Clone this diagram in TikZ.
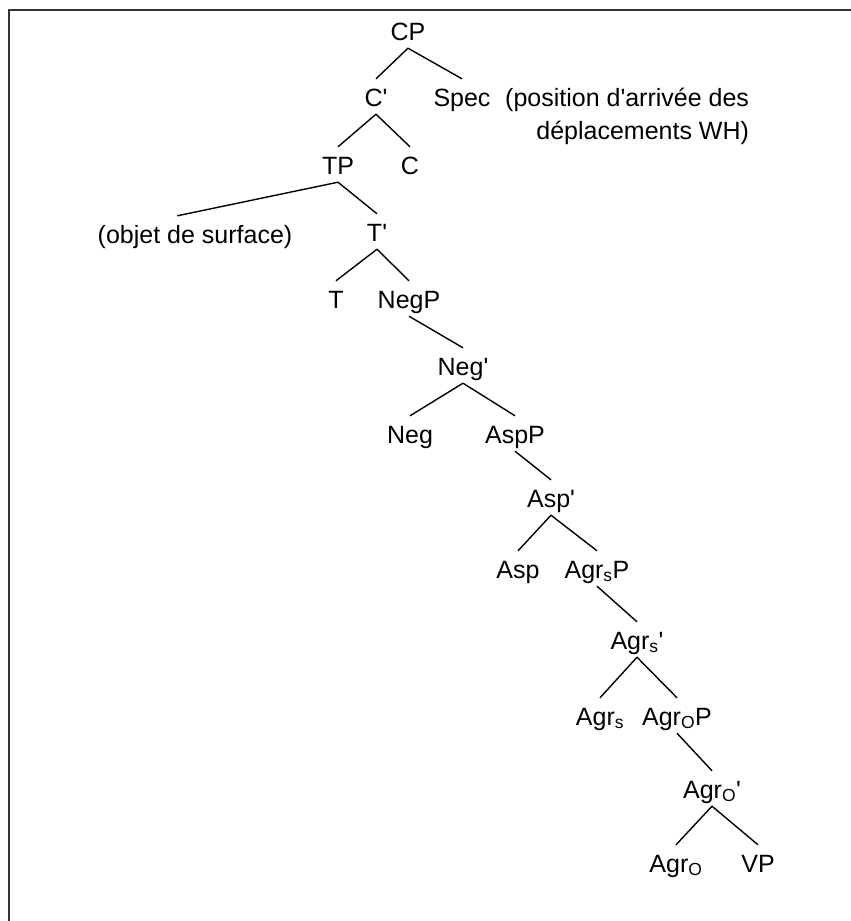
\documentclass[tikz,border=0pt]{standalone}
\usepackage{fontspec}
\setmainfont{Liberation Sans}
\usetikzlibrary{positioning}
\newcommand{\prm}{\textquotesingle}
\tikzset{
  % category label of the tree
  cat/.style    = {inner sep=0pt, anchor=base, text height=27pt, text depth=8pt,
                   font=\fontsize{25}{33}\selectfont},
  % free comment beside a node
  note/.style   = {inner sep=0pt, align=right, anchor=base west,
                   font=\fontsize{25}{33}\selectfont},
  % tree branches
  branch/.style = {line width=1.4pt, black},
  % box edge
  edge/.style   = {line width=2pt, black!80},
}

\begin{document}
\begin{tikzpicture}[x=1pt, y=-1pt]
  \useasboundingbox (0,0) rectangle (851,921);

  % frame (top and left side only)
  \coordinate (tl) at (9,10);
  \coordinate (tr) at (851,10);
  \coordinate (bl) at (9,921);
  \draw[edge] (tr) -- (tl) -- (bl);

  % --- nodes ---
  \node[cat] (cp)      at (408,40)  {CP};
  \node[cat] (cbar)    at (376,106) {C\prm};
  \node[cat] (spec)    at (462,106) {Spec};
  % base of an aligned node is its last line
  \node[note] (whnote) at (505,139) {(position d\prm arrivée des\\déplacements WH)};

  \node[cat] (tp)      at (338,174) {TP};
  \node[cat] (c)       at (410,174) {C};
  \node[cat] (obj)     at (195,243) {(objet de surface)};
  \node[cat] (tbar)    at (377,241) {T\prm};
  \node[cat] (t)       at (336,308) {T};
  \node[cat] (negp)    at (409,308) {NegP};
  \node[cat] (negbar)  at (463,375) {Neg\prm};
  \node[cat] (neg)     at (410,443) {Neg};
  \node[cat] (aspp)    at (515,443) {AspP};
  \node[cat] (aspbar)  at (551,507) {Asp\prm};
  \node[cat] (asp)     at (518,578) {Asp};
  \node[cat] (agrsp)   at (597,578) {Agr\textsubscript{s}P};
  \node[cat] (agrsbar) at (637,649) {Agr\textsubscript{s}\prm};
  \node[cat] (agrs)    at (600,725) {Agr\textsubscript{s}};
  \node[cat] (agrop)   at (677,725) {Agr\textsubscript{O}P};
  \node[cat] (agrobar) at (712,798) {Agr\textsubscript{O}\prm};
  \node[cat] (agro)    at (676,872) {Agr\textsubscript{O}};
  \node[cat] (vp)      at (758,872) {VP};

  % --- branches ---
  \foreach \a/\b in {cp/cbar, cp/spec, cbar/tp, cbar/c, tp/tbar,
                     tbar/t, tbar/negp, negp/negbar, negbar/neg, negbar/aspp,
                     aspp/aspbar, aspbar/asp, aspbar/agrsp, agrsp/agrsbar,
                     agrsbar/agrs, agrsbar/agrop, agrop/agrobar,
                     agrobar/agro, agrobar/vp} {
    \draw[branch] (\a.south) -- (\b.north);
  }
  % long branch to the surface object lands left of centre
  \draw[branch] (tp.south) -- (obj.135);
\end{tikzpicture}
\end{document}
